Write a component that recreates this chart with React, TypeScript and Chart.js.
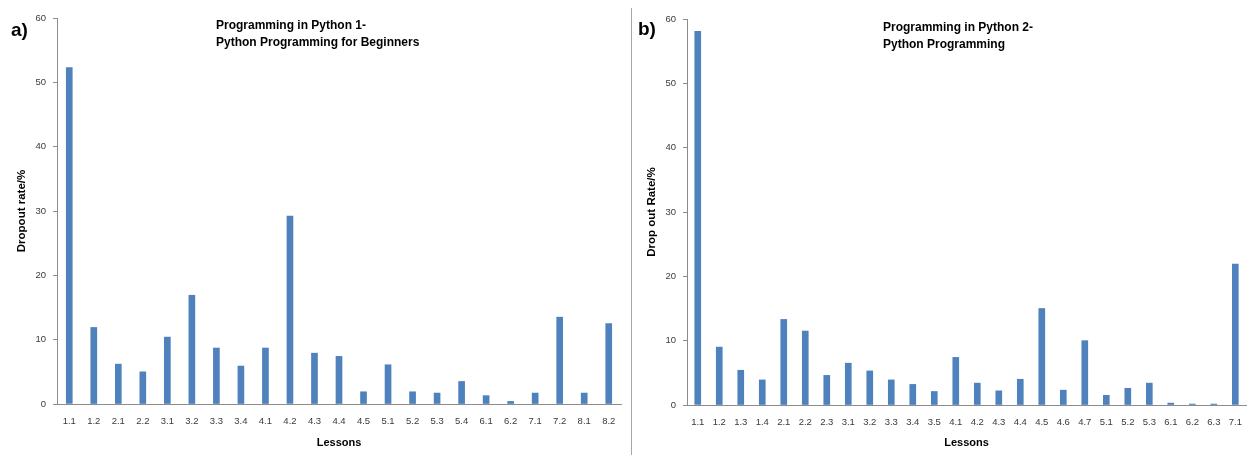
import React, { useEffect, useRef } from "react";
import { Chart, registerables } from "chart.js";

Chart.register(...registerables);

// ---- Data ----
const lessonsA = ["1.1", "1.2", "2.1", "2.2", "3.1", "3.2", "3.3", "3.4", "4.1", "4.2", "4.3", "4.4", "4.5", "5.1", "5.2", "5.3", "5.4", "6.1", "6.2", "7.1", "7.2", "8.1", "8.2"];
const dropoutA = [52.3, 11.9, 6.2, 5.0, 10.4, 16.9, 8.7, 5.9, 8.7, 29.2, 7.9, 7.4, 1.9, 6.1, 1.9, 1.7, 3.5, 1.3, 0.4, 1.7, 13.5, 1.7, 12.5];

const lessonsB = ["1.1", "1.2", "1.3", "1.4", "2.1", "2.2", "2.3", "3.1", "3.2", "3.3", "3.4", "3.5", "4.1", "4.2", "4.3", "4.4", "4.5", "4.6", "4.7", "5.1", "5.2", "5.3", "6.1", "6.2", "6.3", "7.1"];
const dropoutB = [58.1, 9.0, 5.4, 3.9, 13.3, 11.5, 4.6, 6.5, 5.3, 3.9, 3.2, 2.1, 7.4, 3.4, 2.2, 4.0, 15.0, 2.3, 10.0, 1.5, 2.6, 3.4, 0.3, 0.15, 0.15, 21.9];

const yMin = 0;
const yMax = 60;
const yStep = 10;

const titleA = ["Programming in Python 1-", "Python Programming for Beginners"];
const titleB = ["Programming in Python 2-", "Python Programming"];

const FONT = "'Liberation Sans', Arial, sans-serif";
const AXIS_COLOR = "#8c8c8c";
const TICK_COLOR = "#3a3a3a";
const BAR_COLOR = "#4F81BD";

function makeConfig(
  labels: string[],
  values: number[],
  yTitle: string,
  yWidth: number,
  xHeight: number,
  padding: { top: number; right: number; left: number; bottom: number },
  yTitlePad: number
): any {
  return {
    type: "bar",
    data: {
      labels,
      datasets: [
        {
          data: values,
          backgroundColor: BAR_COLOR,
          borderWidth: 0,
          barThickness: 6,
        },
      ],
    },
    options: {
      animation: false,
      responsive: false,
      devicePixelRatio: 1,
      layout: { padding },
      plugins: {
        legend: { display: false },
        tooltip: { enabled: false },
        title: { display: false },
      },
      scales: {
        x: {
          type: "category",
          offset: true,
          grid: { display: false, drawTicks: false },
          border: { display: true, color: AXIS_COLOR, width: 1 },
          ticks: {
            color: TICK_COLOR,
            font: { family: FONT, size: 9.5 },
            padding: 12,
            maxRotation: 0,
            minRotation: 0,
            autoSkip: false,
          },
          title: {
            display: true,
            text: "Lessons",
            color: "#000",
            font: { family: FONT, size: 11, weight: "bold" },
            padding: { top: 0, bottom: 5 },
          },
          afterFit: (s: any) => {
            s.height = xHeight;
          },
        },
        y: {
          min: yMin,
          max: yMax,
          ticks: {
            stepSize: yStep,
            color: TICK_COLOR,
            font: { family: FONT, size: 9.5 },
            padding: 7,
          },
          grid: {
            display: true,
            drawOnChartArea: false,
            drawTicks: true,
            tickLength: 4,
            color: AXIS_COLOR,
          },
          border: { display: true, color: AXIS_COLOR, width: 1 },
          title: {
            display: true,
            text: yTitle,
            color: "#000",
            font: { family: FONT, size: 11.5, weight: "bold" },
            padding: { top: yTitlePad, bottom: 0 },
          },
          afterFit: (s: any) => {
            s.width = yWidth;
          },
        },
      },
    },
  };
}

function BarPanel(props: {
  left: number;
  width: number;
  labels: string[];
  values: number[];
  yTitle: string;
  yWidth: number;
  xHeight: number;
  padding: { top: number; right: number; left: number; bottom: number };
  yTitlePad: number;
}) {
  const ref = useRef<HTMLCanvasElement | null>(null);
  useEffect(() => {
    if (!ref.current) return;
    const chart = new Chart(
      ref.current,
      makeConfig(props.labels, props.values, props.yTitle, props.yWidth, props.xHeight, props.padding, props.yTitlePad)
    );
    return () => chart.destroy();
  }, []);
  return (
    <canvas
      ref={ref}
      width={props.width}
      height={455}
      style={{ position: "absolute", left: props.left, top: 0, width: props.width, height: 455 }}
    />
  );
}

const titleStyle: React.CSSProperties = {
  position: "absolute",
  fontFamily: FONT,
  fontWeight: "bold",
  fontSize: 12,
  lineHeight: "17px",
  color: "#000",
  whiteSpace: "nowrap",
};

const panelLabelStyle: React.CSSProperties = {
  position: "absolute",
  fontFamily: FONT,
  fontWeight: "bold",
  fontSize: 19,
  lineHeight: "22px",
  color: "#000",
};

export default function App() {
  return (
    <div style={{ position: "fixed", left: 0, top: 0, width: 1254, height: 455, background: "#fff", overflow: "hidden" }}>
      <BarPanel
        left={0}
        width={631}
        labels={lessonsA}
        values={dropoutA}
        yTitle="Dropout rate/%"
        yWidth={57}
        xHeight={51}
        padding={{ top: 18, right: 10, left: 0, bottom: 0 }}
        yTitlePad={15}
      />
      <BarPanel
        left={633}
        width={621}
        labels={lessonsB}
        values={dropoutB}
        yTitle="Drop out Rate/%"
        yWidth={54}
        xHeight={50}
        padding={{ top: 19, right: 4, left: 0, bottom: 0 }}
        yTitlePad={12}
      />
      <div style={{ position: "absolute", left: 631, top: 8, width: 1, height: 447, background: "#a6a6a6" }} />
      <div style={{ ...panelLabelStyle, left: 11, top: 19 }}>a)</div>
      <div style={{ ...panelLabelStyle, left: 638, top: 18 }}>b)</div>
      <div style={{ ...titleStyle, left: 216, top: 17 }}>
        {titleA[0]}
        <br />
        {titleA[1]}
      </div>
      <div style={{ ...titleStyle, left: 883, top: 19 }}>
        {titleB[0]}
        <br />
        {titleB[1]}
      </div>
    </div>
  );
}
